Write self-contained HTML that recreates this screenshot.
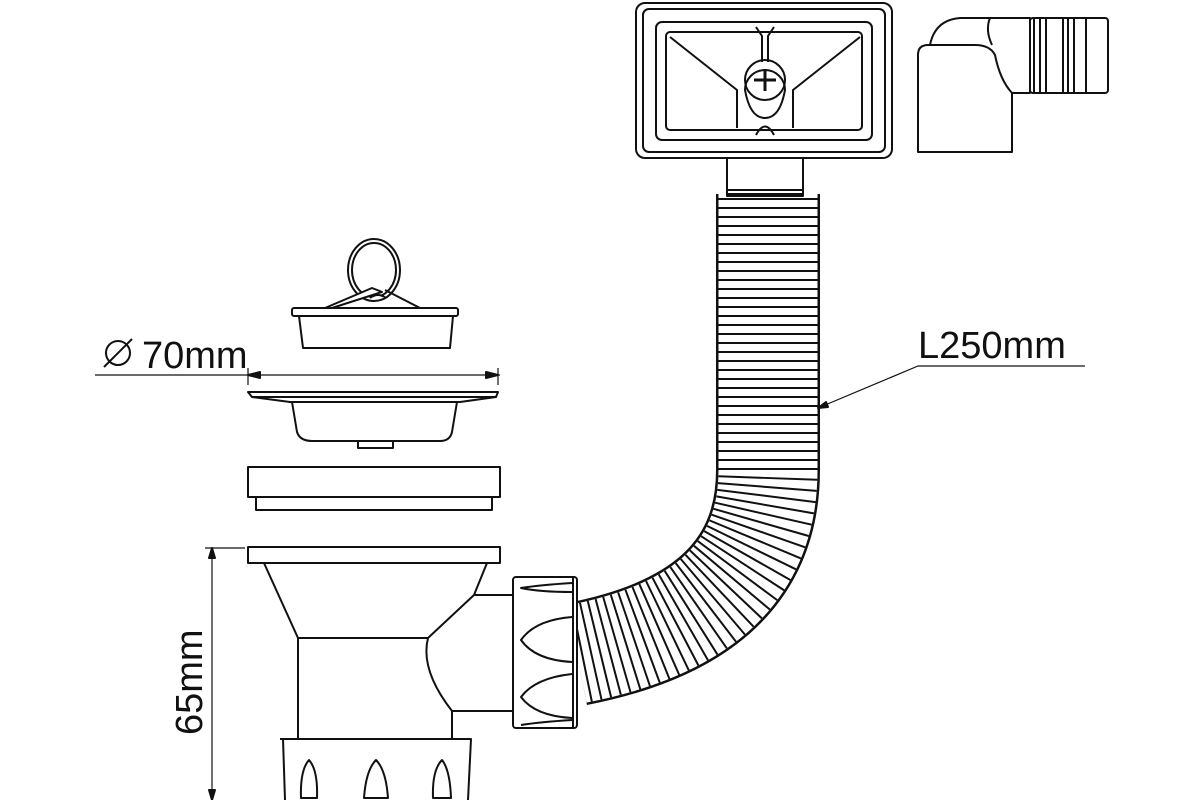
<!DOCTYPE html>
<html><head><meta charset="utf-8"><style>
html,body{margin:0;padding:0;background:#fff;}
svg{display:block;}
text{font-family:"Liberation Sans",sans-serif;fill:#111;}
</style></head><body>
<svg width="1200" height="800" viewBox="0 0 1200 800" xmlns="http://www.w3.org/2000/svg">
<g fill="none" stroke="#111" stroke-width="2" stroke-linejoin="round">

<!-- corrugated hose -->
<path d="M768,194 L768,470 C768,580 690,632 577,654" stroke-width="104"/>
<path d="M768,194 L768,470 C768,580 690,632 577,654" stroke="#fff" stroke-width="99"/>
<path d="M768,198 L768,470 C768,580 690,632 577,654" stroke-width="99" stroke-dasharray="2 7"/>
<path d="M768,198 L768,470 C768,580 690,632 577,654" stroke="#fff" stroke-width="72" stroke-dasharray="4.5 4.5" stroke-dashoffset="-2.5"/>

<!-- overflow box -->
<rect x="636" y="3" width="256" height="155" rx="9" fill="#fff"/>
<rect x="643" y="9" width="242" height="143" rx="6"/>
<rect x="656" y="22" width="216" height="118" rx="6"/>
<rect x="666" y="32" width="196" height="98" rx="4"/>
<path d="M670,37 L737,90 L737,128 M860,37 L793,90 L793,128"/>
<path d="M756,27 L762,36 V62 M774,27 L768,36 V62"/>
<path d="M745,90 A20,20 0 1,1 785,90 Q780,118 765,118 Q750,118 745,90 Z" fill="#fff"/>
<circle cx="765" cy="80" r="20"/>
<path d="M765,69 V91 M754,80 H776" stroke-width="3"/>
<path d="M756,135 Q765,118 774,135"/>
<rect x="727" y="158" width="76" height="38" fill="#fff"/>
<path d="M727,190 H803 M727,194 H803"/>

<!-- elbow -->
<path d="M918,152 L918,55 Q918,45 928,45 L975,45 Q990,45 995,55 Q1000,80 1012,93 L1012,152 Z" fill="#fff"/>
<path d="M930,45 Q935,20 960,18 L1030,18 L1030,93 L1012,93"/>
<path d="M990,18 Q985,30 992,45"/>
<rect x="1030" y="18" width="78" height="75" rx="3" fill="#fff"/>
<path d="M1034,18 V93 M1040,18 V93 M1046,18 V93 M1063,18 V93 M1068,18 V93 M1074,18 V93 M1086,18 V93"/>

<!-- plug with ring -->
<ellipse cx="374" cy="270" rx="26" ry="31"/>
<ellipse cx="374" cy="270" rx="22" ry="27"/>
<path d="M325,308 L372,288 L382,292 L332,308 M385,290 L420,308 M370,298 Q378,292 386,298" fill="#fff"/>
<rect x="292" y="308" width="166" height="8" rx="2" fill="#fff"/>
<path d="M299,316 L303,348 L450,348 L453,316"/>

<!-- strainer -->
<path d="M248,392 L498,392 L496,397 L252,397 Z" fill="#fff"/>
<path d="M252,397 L290,402 L460,402 L496,397"/>
<path d="M292,402 L297,432 Q300,441 312,441 L440,441 Q450,441 452,432 L457,402"/>
<path d="M358,441 V448 H393 V441"/>

<!-- ring -->
<rect x="248" y="467" width="252" height="30"/>
<rect x="256" y="497" width="236" height="13"/>

<!-- body -->
<rect x="248" y="547" width="252" height="16"/>
<path d="M264,563 L298,638 M487,563 L474,595 L428,638 L298,638"/>
<path d="M474,595 H513 M428,638 Q420,670 452,711 H513"/>
<path d="M298,638 V738 M452,711 V738"/>
<path d="M280,739 H471 L468,800 M283,739 L285,800"/>
<path d="M301,798 Q300,770 309,760 Q318,770 317,798 Z"/>
<path d="M364,798 Q366,770 376,760 Q386,770 388,798 Z"/>
<path d="M433,798 Q432,770 442,760 Q450,770 451,798 Z"/>

<!-- nut -->
<rect x="513" y="577" width="64" height="151" rx="3" fill="#fff"/>
<path d="M573,577 V728"/>
<path d="M572,583 Q540,585 521,588 Q540,592 572,592"/>
<path d="M572,617 Q535,620 521,640 Q535,660 572,662"/>
<path d="M572,674 Q535,678 521,697 Q535,716 572,718"/>
<path d="M572,720 Q540,722 521,725"/>

<!-- dimensions -->
<path d="M95,375 H500 M248,368 V385 M498,368 V385" stroke-width="1.2"/>
<path d="M248,375 l12,-3 v6 Z M498,375 l-12,-3 v6 Z" fill="#111"/>
<circle cx="118" cy="353" r="12" stroke-width="2"/>
<path d="M104,367 L132,339" stroke-width="2"/>
<path d="M212,548 V800 M205,548 H245" stroke-width="1.2"/>
<path d="M212,548 l-3,10 h6 Z M212,800 l-3,-10 h6 Z" fill="#111"/>
<path d="M1085,366 H918 L818,408" stroke-width="1.2"/>
<path d="M818,408 l8,-6 l2,5 Z" fill="#111"/>
</g>
<text x="142" y="368" font-size="38">70mm</text>
<text x="918" y="358" font-size="38">L250mm</text>
<text transform="translate(202,735) rotate(-90)" font-size="38">65mm</text>
</svg>
</body></html>
